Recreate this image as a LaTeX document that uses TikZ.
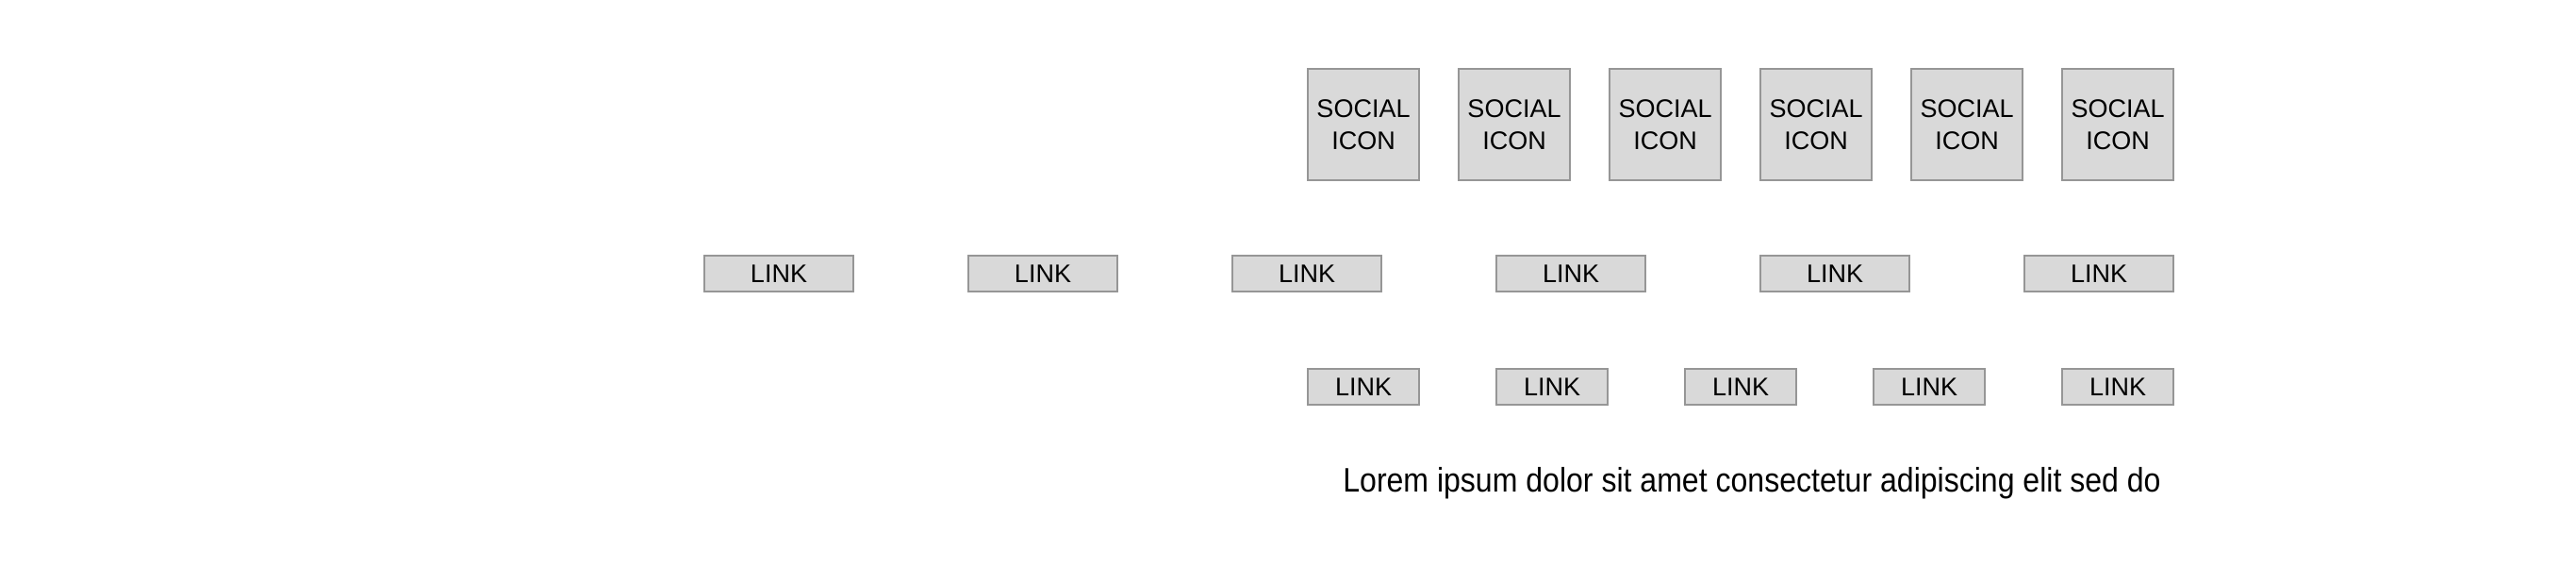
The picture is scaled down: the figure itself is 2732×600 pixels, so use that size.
\documentclass[tikz,border=0pt]{standalone}
\usepackage{fontspec}
\setmainfont{Liberation Sans}
\newfontfamily\blurbfont[FakeStretch=0.89]{Liberation Sans}
\usetikzlibrary{positioning}
\definecolor{boxFill}{RGB}{217,217,217}
\definecolor{boxEdge}{RGB}{150,150,150}
\definecolor{boxInk}{RGB}{0,0,0}
\tikzset{
  % grey placeholder box; the size is given by the styles below
  box/.style={
    draw=boxEdge, fill=boxFill, line width=0.75pt,
    inner sep=0pt, outer sep=0pt, align=center, text=boxInk,
    font=\fontsize{13.5}{17}\selectfont
  },
  icon/.style={box, minimum width=59pt, minimum height=59pt},
  widelink/.style={box, minimum width=79pt, minimum height=19pt},
  link/.style={box, minimum width=59pt, minimum height=19pt},
  % running text under the boxes
  blurb/.style={font=\blurbfont\fontsize{18}{22}\selectfont, text=boxInk, inner sep=0pt},
}
\begin{document}
\begin{tikzpicture}[x=0.5pt, y=-0.5pt]
\useasboundingbox (0,0) rectangle (2732,600);

\def\icongap{21pt}   % gap between social icons
\def\widegap{61pt}   % gap between links of the first row
\def\linkgap{41pt}   % gap between links of the second row

% ------------------------------- social icons ------------------------------
\node[icon] (icon1) at (1446,132) {SOCIAL\\ICON};
\node[icon, right=\icongap of icon1] (icon2) {SOCIAL\\ICON};
\node[icon, right=\icongap of icon2] (icon3) {SOCIAL\\ICON};
\node[icon, right=\icongap of icon3] (icon4) {SOCIAL\\ICON};
\node[icon, right=\icongap of icon4] (icon5) {SOCIAL\\ICON};
\node[icon, right=\icongap of icon5] (icon6) {SOCIAL\\ICON};

% ------------------------------- first row of links ------------------------
\node[widelink] (top1) at (826,290) {LINK};
\node[widelink, right=\widegap of top1] (top2) {LINK};
\node[widelink, right=\widegap of top2] (top3) {LINK};
\node[widelink, right=\widegap of top3] (top4) {LINK};
\node[widelink, right=\widegap of top4] (top5) {LINK};
\node[widelink, right=\widegap of top5] (top6) {LINK};

% ------------------------------- second row of links -----------------------
\node[link] (low1) at (1446,410) {LINK};
\node[link, right=\linkgap of low1] (low2) {LINK};
\node[link, right=\linkgap of low2] (low3) {LINK};
\node[link, right=\linkgap of low3] (low4) {LINK};
\node[link, right=\linkgap of low4] (low5) {LINK};

% ------------------------------- text ---------------------------------------
\node[blurb, anchor=base] (lorem) at (1858,521)
      {Lorem ipsum dolor sit amet consectetur adipiscing elit sed do};

\end{tikzpicture}
\end{document}
